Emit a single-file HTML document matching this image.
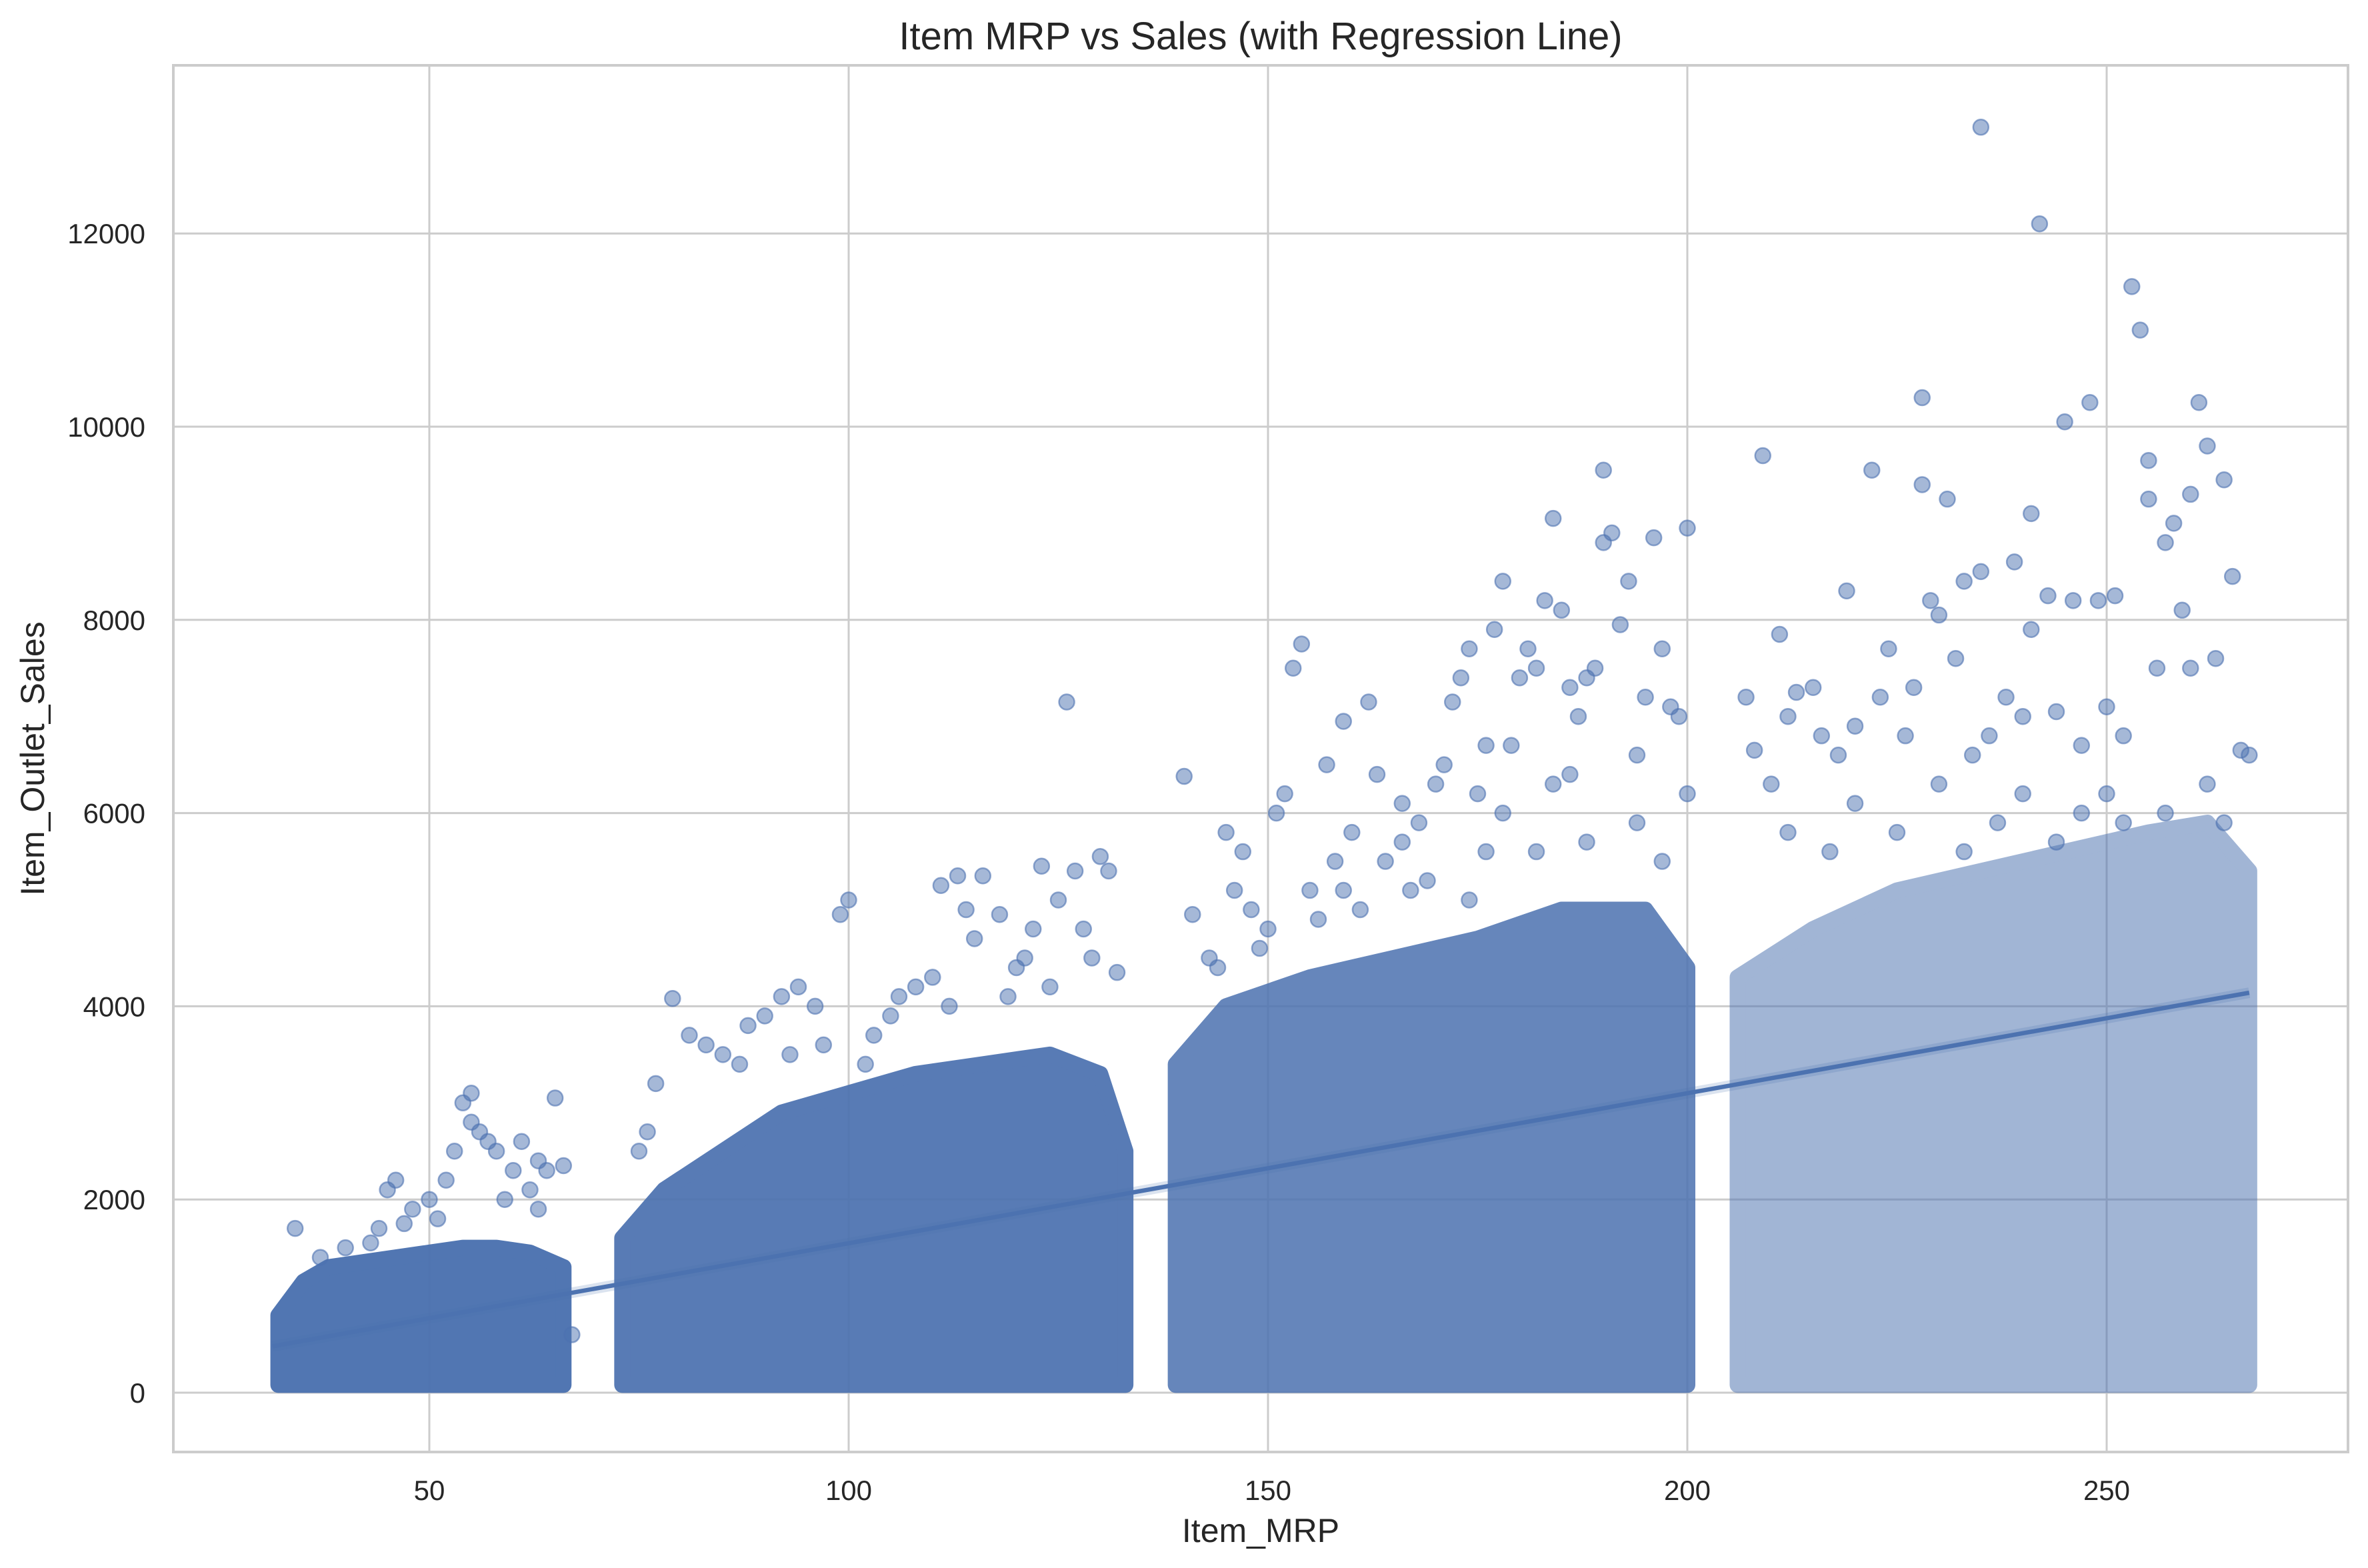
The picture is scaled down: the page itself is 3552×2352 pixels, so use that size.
<!DOCTYPE html>
<html><head><meta charset="utf-8">
<style>
html,body{margin:0;padding:0;background:#fff;}
svg{display:block;font-family:"Liberation Sans",Arial,sans-serif;}
</style></head>
<body>
<svg id="chart" width="3552" height="2352" viewBox="0 0 3552 2352" xmlns="http://www.w3.org/2000/svg">
<rect x="0" y="0" width="3552" height="2352" fill="#ffffff"/>
<g id="grid"></g>
<g id="cores"></g>
<g id="points"></g>
<g id="reg"></g>
<g id="spines"></g>
<g id="ticks"></g>
<text x="1891" y="74" text-anchor="middle" font-size="58" fill="#262626">Item MRP vs Sales (with Regression Line)</text>
<text x="1891" y="2313" text-anchor="middle" font-size="50" fill="#262626">Item_MRP</text>
<text transform="translate(66,1138) rotate(-90)" text-anchor="middle" font-size="50" fill="#262626">Item_Outlet_Sales</text>
</svg>
<script>
const xTicks = [50, 100, 150, 200, 250];
const yTicks = [0, 2000, 4000, 6000, 8000, 10000, 12000];
const coreX1 = [32, 35, 38, 42, 46, 50, 54, 58, 62, 66];
const coreTop1 = [800, 1150, 1300, 1350, 1400, 1450, 1500, 1500, 1450, 1300];
const coreX2 = [73, 78, 85, 92, 100, 108, 116, 124, 130, 133];
const coreTop2 = [1600, 2100, 2500, 2900, 3100, 3300, 3400, 3500, 3300, 2500];
const coreX3 = [139, 145, 155, 165, 175, 185, 195, 200];
const coreTop3 = [3400, 4000, 4300, 4500, 4700, 5000, 5000, 4400];
const coreX4 = [206, 215, 225, 235, 245, 255, 262, 267];
const coreTop4 = [4300, 4800, 5200, 5400, 5600, 5800, 5900, 5400];
const coreBottom = 80;
const pointsMRP = [34,45,46,50,52,53,55,55,54,56,57,58,60,61,62,63,64,65,66,67,48,44,40,37,59,63,51,43,47,
79,81,83,85,77,88,90,92,94,96,99,100,103,106,108,111,113,114,116,118,120,122,123,125,126,127,128,130,131,129,132,119,110,105,97,87,75,76,115,121,124,112,102,93,
140,141,143,145,146,147,149,151,152,153,154,155,157,158,159,160,162,163,164,166,168,170,171,172,173,174,175,176,177,178,179,180,181,182,183,184,185,186,187,188,189,190,190,191,192,193,194,195,196,197,198,200,199,200,161,169,178,186,194,148,156,167,174,182,188,197,144,150,184,176,166,159,
209,211,212,210,213,215,216,207,208,218,219,220,222,223,224,226,227,228,228,229,230,231,232,233,234,235,235,236,238,239,240,241,242,241,243,244,245,246,247,248,249,250,251,252,253,254,255,255,256,257,258,259,260,261,262,263,264,265,266,267,260,250,240,230,220,212,225,237,247,257,264,244,233,217,262,252];
const pointsSales = [1700,2100,2200,2000,2200,2500,2800,3100,3000,2700,2600,2500,2300,2600,2100,2400,2300,3050,2350,600,1900,1700,1500,1400,2000,1900,1800,1550,1750,
4080,3700,3600,3500,3200,3800,3900,4100,4200,4000,4950,5100,3700,4100,4200,5250,5350,5000,5350,4950,4400,4800,5450,5100,7150,5400,4800,5550,5400,4500,4350,4100,4300,3900,3600,3400,2500,2700,4700,4500,4200,4000,3400,3500,
6380,4950,4500,5800,5200,5600,4600,6000,6200,7500,7750,5200,6500,5500,6950,5800,7150,6400,5500,6100,5900,6300,6500,7150,7400,7700,6200,5600,7900,8400,6700,7400,7700,7500,8200,9050,8100,7300,7000,7400,7500,9550,8800,8900,7950,8400,6600,7200,8850,7700,7100,8950,7000,6200,5000,5300,6000,6400,5900,5000,4900,5200,5100,5600,5700,5500,4400,4800,6300,6700,5700,5200,
9700,7850,7000,6300,7250,7300,6800,7200,6650,6600,8300,6900,9550,7200,7700,6800,7300,10300,9400,8200,8050,9250,7600,8400,6600,13100,8500,6800,7200,8600,7000,7900,12100,9100,8250,7050,10050,8200,6700,10250,8200,7100,8250,6800,11450,11000,9650,9250,7500,8800,9000,8100,9300,10250,9800,7600,9450,8450,6650,6600,7500,6200,6200,6300,6100,5800,5800,5900,6000,6000,5900,5700,5600,5600,6300,5900];
const regMRP = [31.3, 267];
const regSales = [480, 4140];

const NS = "http://www.w3.org/2000/svg";
const AX = {left: 260, right: 3522, top: 98, bottom: 2178};
function X(v){ return 15 + v * 12.58; }
function Y(v){ return 2089 - v * 0.1449; }
function mk(tag, attrs, parent){
  const e = document.createElementNS(NS, tag);
  for (const k in attrs) e.setAttribute(k, attrs[k]);
  parent.appendChild(e);
  return e;
}
const grid = document.getElementById('grid');
xTicks.forEach(t => {
  const l = mk('line', {x1: X(t), x2: X(t), y1: AX.top, y2: AX.bottom, stroke: '#cccccc', 'stroke-width': 3}, grid);
  
  
});
yTicks.forEach(t => {
  const l = mk('line', {x1: AX.left, x2: AX.right, y1: Y(t), y2: Y(t), stroke: '#cccccc', 'stroke-width': 3}, grid);
  
  
});
const cores = document.getElementById('cores');
[[coreX1, coreTop1, 0.97], [coreX2, coreTop2, 0.93], [coreX3, coreTop3, 0.85], [coreX4, coreTop4, 0.52]].forEach((c, i) => {
  const xs = c[0], tops = c[1];
  let pts = xs.map((x, j) => X(x) + ',' + Y(tops[j]));
  pts.push(X(xs[xs.length - 1]) + ',' + Y(coreBottom));
  pts.push(X(xs[0]) + ',' + Y(coreBottom));
  const g = mk('g', {opacity: c[2]}, cores);
  
  
  const p = mk('polygon', {points: pts.join(' '), fill: '#4c72b0', stroke: '#4c72b0', 'stroke-width': 24, 'stroke-linejoin': 'round'}, g);
  
  
});
const pg = document.getElementById('points');
pointsMRP.forEach((m, i) => {
  const c = mk('circle', {cx: X(m), cy: Y(pointsSales[i]), r: 11.5, fill: '#4c72b0', 'fill-opacity': 0.5, stroke: '#4c72b0', 'stroke-opacity': 0.6, 'stroke-width': 2.5}, pg);
  
  
});
const reg = document.getElementById('reg');
const band = mk('line', {x1: X(regMRP[0]), y1: Y(regSales[0]), x2: X(regMRP[1]), y2: Y(regSales[1]), stroke: '#4c72b0', 'stroke-opacity': 0.2, 'stroke-width': 16}, reg);


const rl = mk('line', {x1: X(regMRP[0]), y1: Y(regSales[0]), x2: X(regMRP[1]), y2: Y(regSales[1]), stroke: '#4c72b0', 'stroke-width': 6.5}, reg);


const sp = document.getElementById('spines');
const fr = mk('rect', {x: AX.left, y: AX.top, width: AX.right - AX.left, height: AX.bottom - AX.top, fill: 'none', stroke: '#cccccc', 'stroke-width': 4}, sp);


const tk = document.getElementById('ticks');
xTicks.forEach(t => {
  const e = mk('text', {x: X(t), y: 2250, 'text-anchor': 'middle', 'font-size': 42, fill: '#262626'}, tk);
  e.textContent = t;
  
  
});
yTicks.forEach(t => {
  const e = mk('text', {x: 218, y: Y(t) + 15, 'text-anchor': 'end', 'font-size': 42, fill: '#262626'}, tk);
  e.textContent = t;
  
  
});
</script>
</body></html>
